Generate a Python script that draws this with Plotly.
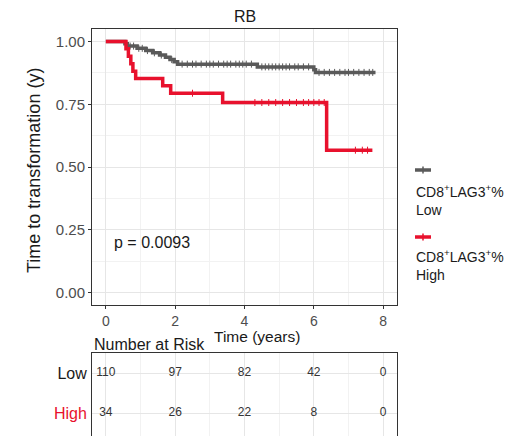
import numpy as np
import plotly.graph_objects as go

# ---------------- data ----------------
title = "RB"
low_times = [0, 0.55, 0.62, 0.9, 1.15, 1.35, 1.55, 1.72, 1.85, 1.97, 2.07, 4.37, 6.0, 6.05, 7.78]
low_surv = [1.0, 0.991, 0.982, 0.973, 0.964, 0.955, 0.946, 0.937, 0.928, 0.919, 0.910, 0.899, 0.888, 0.877, 0.877]
low_censor = [0.7, 0.8, 0.95, 1.05, 1.2, 1.4, 1.6, 1.9, 2.2, 2.35, 2.5, 2.6, 2.75, 2.9, 3.0, 3.1,
              3.25, 3.4, 3.5, 3.6, 3.75, 3.85, 3.95, 4.05, 4.2, 4.5, 4.6, 4.7, 4.8, 4.9, 5.0, 5.1,
              5.2, 5.3, 5.45, 5.55, 5.7, 5.85, 6.15, 6.3, 6.45, 6.6, 6.75, 6.9, 7.0, 7.15, 7.3,
              7.45, 7.6, 7.7]

high_times = [0, 0.58, 0.65, 0.72, 0.78, 0.86, 1.64, 1.87, 3.37, 6.37, 7.69]
high_surv = [1.0, 0.971, 0.941, 0.912, 0.882, 0.853, 0.824, 0.794, 0.757, 0.567, 0.567]
high_censor = [2.5, 4.3, 4.5, 4.7, 4.9, 5.1, 5.3, 5.5, 5.7, 5.85, 6.0, 6.15, 6.3, 7.2, 7.4, 7.55]

risk_times = [0, 2, 4, 6, 8]
risk_low = [110, 97, 82, 42, 0]
risk_high = [34, 26, 22, 8, 0]

group_labels = ["Low", "High"]
p_text = "p = 0.0093"

GRAY = "#5a5a5a"
RED = "#e8112d"
W, H = 513, 436
FONT = "Liberation Sans, Arial, sans-serif"


def step_at(times, surv, t):
    idx = np.searchsorted(np.array(times), np.array(t), side="right") - 1
    return np.array(surv)[idx]


def px(x):
    return x / W


def py(y):
    return 1 - y / H


fig = go.Figure()

for times, surv, cens, col, name in [
    (low_times, low_surv, low_censor, GRAY, "Low"),
    (high_times, high_surv, high_censor, RED, "High"),
]:
    fig.add_trace(go.Scatter(x=times, y=surv, mode="lines", line=dict(color=col, width=3.5, shape="hv"),
                             showlegend=False, name=name, xaxis="x", yaxis="y"))
    fig.add_trace(go.Scatter(x=cens, y=step_at(times, surv, cens), mode="markers",
                             marker=dict(symbol="line-ns", size=5, line=dict(color=col, width=1)),
                             showlegend=False, xaxis="x", yaxis="y"))

# risk table
fig.add_trace(go.Scatter(x=risk_times, y=[2] * len(risk_times), text=[str(v) for v in risk_low],
                         mode="text", textfont=dict(size=12, color="#333333", family=FONT),
                         showlegend=False, xaxis="x2", yaxis="y2"))
fig.add_trace(go.Scatter(x=risk_times, y=[1] * len(risk_times), text=[str(v) for v in risk_high],
                         mode="text", textfont=dict(size=12, color="#333333", family=FONT),
                         showlegend=False, xaxis="x2", yaxis="y2"))

xdom = [px(92), px(397)]
axis_common = dict(showline=True, linecolor="#333333", linewidth=1, mirror=True,
                   gridcolor="#e6e6e6", gridwidth=1, zeroline=False)

fig.update_layout(
    width=W, height=H, margin=dict(l=0, r=0, t=0, b=0),
    plot_bgcolor="white", paper_bgcolor="white",
    font=dict(family=FONT),
    xaxis=dict(domain=xdom, range=[-0.4, 8.4], tickvals=[0, 2, 4, 6, 8],
               ticks="outside", ticklen=3, tickcolor="#333333",
               tickfont=dict(size=14, color="#4d4d4d"),
               minor=dict(dtick=1, tick0=0, showgrid=True, gridcolor="#f2f2f2", gridwidth=0.6),
               anchor="y", **axis_common),
    yaxis=dict(domain=[py(305), py(29)], range=[-0.05, 1.05], tickvals=[0, 0.25, 0.5, 0.75, 1.0],
               ticktext=["0.00", "0.25", "0.50", "0.75", "1.00"],
               ticks="outside", ticklen=3, tickcolor="#333333",
               tickfont=dict(size=15, color="#4d4d4d"),
               minor=dict(dtick=0.125, tick0=0, showgrid=True, gridcolor="#f2f2f2", gridwidth=0.6),
               anchor="x", **axis_common),
    xaxis2=dict(domain=xdom, range=[-0.4, 8.4], tickvals=[0, 2, 4, 6, 8], showticklabels=False,
                side="top", showline=True, linecolor="#333333", linewidth=1, mirror=False,
                gridcolor="#e6e6e6", zeroline=False, ticks="",
                minor=dict(dtick=1, tick0=0, showgrid=True, gridcolor="#f2f2f2", gridwidth=0.6),
                anchor="y2"),
    yaxis2=dict(domain=[0, py(353)], range=[0.425, 2.5], tickvals=[2, 1],
                ticktext=[group_labels[0], "<span style='color:%s'>%s</span>" % (RED, group_labels[1])],
                tickfont=dict(size=16, color="#1a1a1a"), ticks="", ticklabelstandoff=1,
                showline=True, linecolor="#333333", linewidth=1, mirror=True,
                gridcolor="#e6e6e6", zeroline=False, anchor="x2"),
)

annotations = [
    dict(text=title, x=px(244.5), y=py(16), xref="paper", yref="paper", showarrow=False,
         font=dict(size=16, color="#1a1a1a"), xanchor="center", yanchor="middle"),
    dict(text="Time to transformation (y)", x=px(34), y=py(171), xref="paper", yref="paper",
         showarrow=False, textangle=-90, font=dict(size=18, color="#1a1a1a"),
         xanchor="center", yanchor="middle"),
    dict(text="Time (years)", x=px(257), y=py(336.5), xref="paper", yref="paper", showarrow=False,
         font=dict(size=15.5, color="#1a1a1a"), xanchor="center", yanchor="middle"),
    dict(text="Number at Risk", x=px(92), y=py(344), xref="paper", yref="paper", showarrow=False,
         font=dict(size=16, color="#1a1a1a"), xanchor="left", yanchor="middle"),
    dict(text=p_text, x=0.17, y=0.2, xref="x", yref="y", showarrow=False,
         font=dict(size=16, color="#1a1a1a"), xanchor="left", yanchor="middle"),
    dict(text="CD8<sup>+</sup>LAG3<sup>+</sup>%", x=px(414), y=py(191), xref="paper", yref="paper",
         showarrow=False, font=dict(size=14, color="#1a1a1a"), xanchor="left", yanchor="middle"),
    dict(text="Low", x=px(414), y=py(210), xref="paper", yref="paper",
         showarrow=False, font=dict(size=14, color="#1a1a1a"), xanchor="left", yanchor="middle"),
    dict(text="CD8<sup>+</sup>LAG3<sup>+</sup>%", x=px(414), y=py(256), xref="paper", yref="paper",
         showarrow=False, font=dict(size=14, color="#1a1a1a"), xanchor="left", yanchor="middle"),
    dict(text="High", x=px(414), y=py(275), xref="paper", yref="paper",
         showarrow=False, font=dict(size=14, color="#1a1a1a"), xanchor="left", yanchor="middle"),
]
fig.update_layout(annotations=annotations)

# legend keys
shapes = []
for yk, col in [(170, GRAY), (237, RED)]:
    shapes.append(dict(type="line", xref="paper", yref="paper", x0=px(415), x1=px(431),
                       y0=py(yk), y1=py(yk), line=dict(color=col, width=3.5)))
    shapes.append(dict(type="line", xref="paper", yref="paper", x0=px(423), x1=px(423),
                       y0=py(yk - 3.5), y1=py(yk + 3.5), line=dict(color=col, width=1.5)))
fig.update_layout(shapes=shapes)

fig.write_html("out.html")
